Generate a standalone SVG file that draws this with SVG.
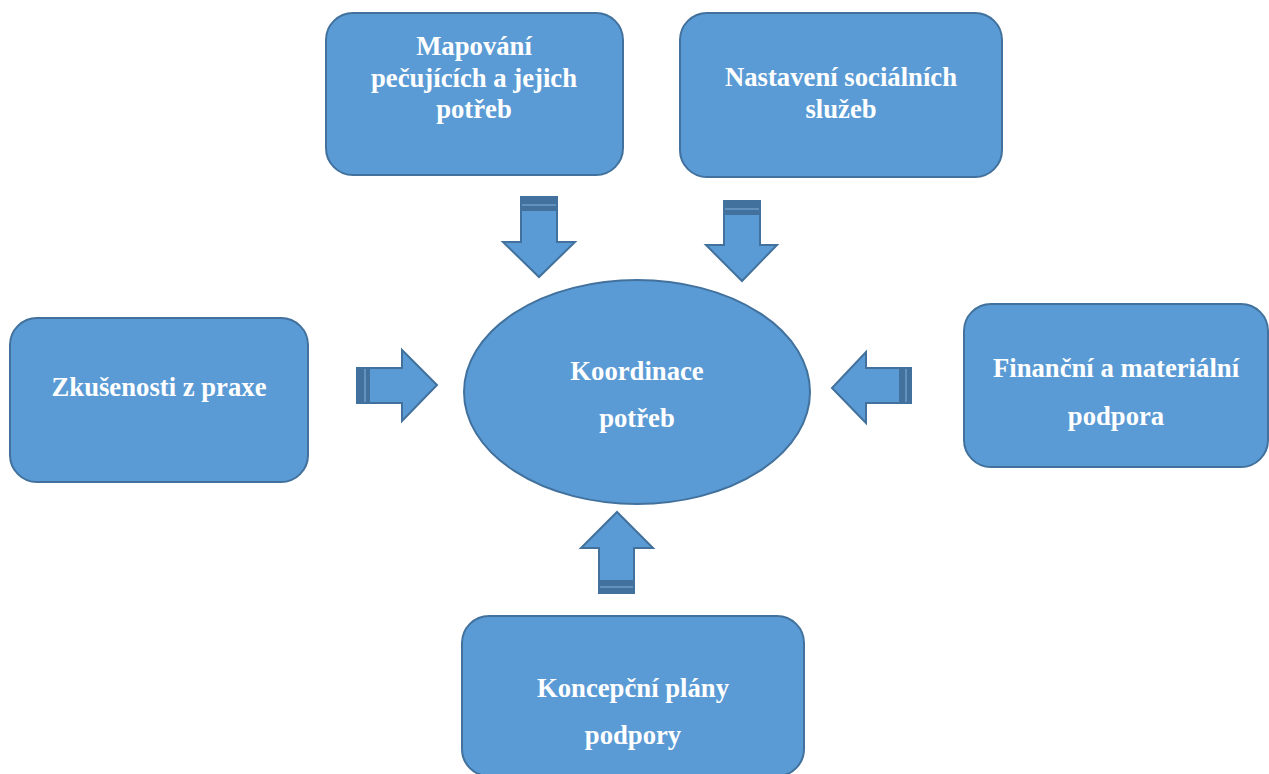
<svg xmlns="http://www.w3.org/2000/svg" width="1269" height="774" viewBox="0 0 1269 774">
<style>
.n{fill:#5B9BD5;stroke:#41719C;stroke-width:2}
.a{fill:#5B9BD5;stroke:#41719C;stroke-width:2;stroke-linejoin:miter}
.b{fill:#41719C}
.l{stroke:#6F9CC8;stroke-width:1.5}
text{font-family:"Liberation Serif","Times New Roman",serif;font-weight:bold;font-size:26.7px;fill:#FFFFFF;text-anchor:middle}
</style>
<rect width="1269" height="774" fill="#FFFFFF"/>
<g id="mapovani">
<rect class="n" x="326" y="13" width="297" height="162" rx="27"/>
<text x="474" y="55">Mapování</text>
<text x="474" y="87">pečujících a jejich</text>
<text x="474" y="118">potřeb</text>
</g>
<g id="nastaveni">
<rect class="n" x="680" y="13" width="322" height="164" rx="27"/>
<text x="841" y="86">Nastavení sociálních</text>
<text x="841" y="118">služeb</text>
</g>
<g id="zkusenosti">
<rect class="n" x="10" y="318" width="298" height="164" rx="27"/>
<text x="159" y="396">Zkušenosti z praxe</text>
</g>
<g id="financni">
<rect class="n" x="964" y="304" width="304" height="163" rx="27"/>
<text x="1116" y="377">Finanční a materiální</text>
<text x="1116" y="425">podpora</text>
</g>
<g id="koncepcni">
<rect class="n" x="462" y="616" width="342" height="160" rx="27"/>
<text x="633" y="697">Koncepční plány</text>
<text x="633" y="744">podpory</text>
</g>
<g id="koordinace">
<ellipse class="n" cx="637" cy="392" rx="173" ry="112"/>
<text x="637" y="380">Koordinace</text>
<text x="637" y="427">potřeb</text>
</g>
<g id="connectors">
<g id="arrow-top-left">
<polygon class="a" points="521,197 557,197 557,242 575,242 539,277 503,242 521,242"/>
<rect class="b" x="521" y="197" width="36" height="14"/>
<line class="l" x1="522" y1="205" x2="556" y2="205"/>
</g>
<g id="arrow-top-right">
<polygon class="a" points="724,201 760,201 760,245 777,245 742,281 706,245 724,245"/>
<rect class="b" x="724" y="201" width="36" height="14"/>
<line class="l" x1="725" y1="209" x2="759" y2="209"/>
</g>
<g id="arrow-left">
<polygon class="a" points="357,368 402,368 402,350 437,385 402,421 402,403 357,403"/>
<rect class="b" x="357" y="368" width="13" height="35"/>
<line class="l" x1="365" y1="369" x2="365" y2="402"/>
</g>
<g id="arrow-right">
<polygon class="a" points="911,368 866,368 866,352 832,388 866,423 866,403 911,403"/>
<rect class="b" x="899" y="368" width="12" height="35"/>
<line class="l" x1="906" y1="369" x2="906" y2="402"/>
</g>
<g id="arrow-bottom">
<polygon class="a" points="599,593 599,548 581,548 617,512 653,548 634,548 634,593"/>
<rect class="b" x="599" y="580" width="35" height="13"/>
<line class="l" x1="600" y1="587" x2="633" y2="587"/>
</g>
</g>
</svg>
